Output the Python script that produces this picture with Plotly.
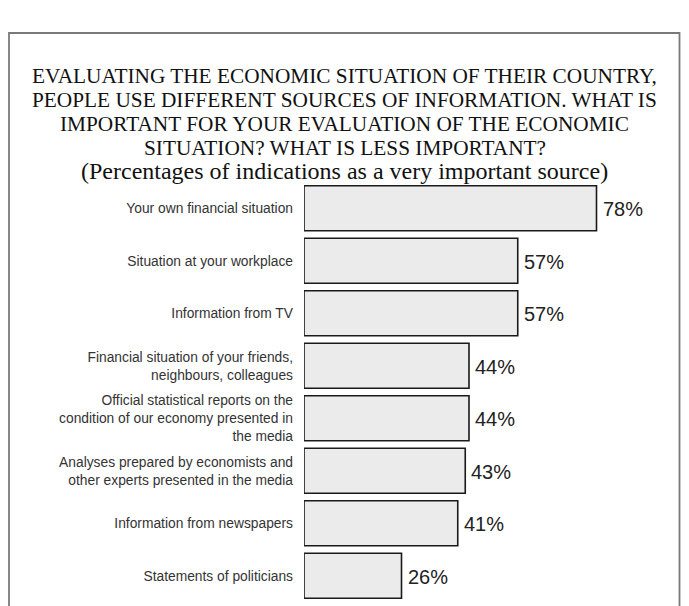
import plotly.graph_objects as go

# Survey results: share of respondents naming each source as "very important"
sources = [
    "Your own financial situation",
    "Situation at your workplace",
    "Information from TV",
    "Financial situation of your friends,<br>neighbours, colleagues",
    "Official statistical reports on the<br>condition of our economy presented in<br>the media",
    "Analyses prepared by economists and<br>other experts presented in the media",
    "Information from newspapers",
    "Statements of politicians",
]
percentages = [78, 57, 57, 44, 44, 43, 41, 26]

title_lines = [
    "EVALUATING THE ECONOMIC SITUATION OF THEIR COUNTRY,",
    "PEOPLE USE DIFFERENT SOURCES OF INFORMATION. WHAT IS",
    "IMPORTANT FOR YOUR EVALUATION OF THE ECONOMIC",
    "SITUATION? WHAT IS LESS IMPORTANT?",
]
subtitle = "(Percentages of indications as a very important source)"

W, H = 689, 606
M_L, M_R, M_T, M_B = 304, 10, 182, 4
plot_w = W - M_L - M_R
plot_h = H - M_T - M_B


def px_x(x):
    """Horizontal pixel position -> paper coordinate."""
    return (x - M_L) / plot_w


def px_y(y):
    """Vertical pixel position (from top) -> paper coordinate."""
    return (H - M_B - y) / plot_h


fig = go.Figure(
    go.Bar(
        x=percentages,
        y=sources,
        orientation="h",
        marker=dict(color="#ebebeb", line=dict(color="#1a1a1a", width=1.6)),
        hoverinfo="skip",
    )
)

annotations = []
# value labels next to each bar
for s, v in zip(sources, percentages):
    annotations.append(dict(
        x=v, y=s, xref="x", yref="y", text=f"{v}%", showarrow=False,
        xanchor="left", yanchor="middle", xshift=4, yshift=-1,
        font=dict(family="Liberation Sans, Arial, sans-serif", size=20, color="#222222"),
    ))

# heading, one line per annotation
title_y = [76, 100, 124, 148]
cx = px_x((9 + 680) / 2)
for line, ty in zip(title_lines, title_y):
    annotations.append(dict(
        x=cx, y=px_y(ty), xref="paper", yref="paper", text=line, showarrow=False,
        xanchor="center", yanchor="middle",
        font=dict(family="Liberation Serif, Times New Roman, serif", size=21.3, color="#111111"),
    ))
annotations.append(dict(
    x=cx, y=px_y(171), xref="paper", yref="paper", text=subtitle, showarrow=False,
    xanchor="center", yanchor="middle",
    font=dict(family="Liberation Serif, Times New Roman, serif", size=24, color="#111111"),
))

fig.update_layout(
    width=W, height=H,
    margin=dict(l=M_L, r=M_R, t=M_T, b=M_B, pad=0),
    paper_bgcolor="white", plot_bgcolor="white",
    bargap=0.142,
    showlegend=False,
    xaxis=dict(range=[0, 100], visible=False, fixedrange=True),
    yaxis=dict(
        autorange="reversed", showgrid=False, zeroline=False, showline=False,
        ticks="", ticklabelstandoff=10,
        tickfont=dict(family="Liberation Sans, Arial, sans-serif", size=13.8, color="#333333"),
    ),
    annotations=annotations,
    shapes=[dict(
        type="rect", xref="paper", yref="paper",
        x0=px_x(9), x1=px_x(679.5), y0=px_y(650), y1=px_y(33),
        line=dict(color="#7a7a7a", width=1.8), fillcolor="rgba(0,0,0,0)", layer="below",
    )],
)

fig.write_html("out.html")
